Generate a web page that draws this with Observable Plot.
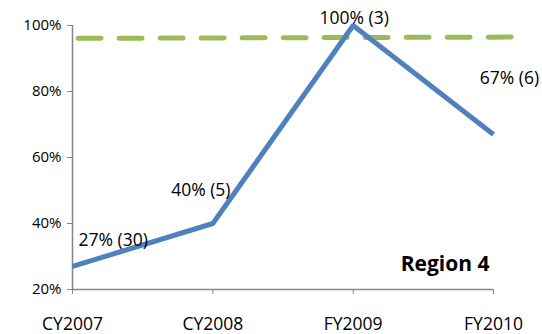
<!DOCTYPE html>
<html>
<head>
<meta charset="utf-8">
<script src="https://cdn.jsdelivr.net/npm/d3@7"></script>
<script src="https://cdn.jsdelivr.net/npm/@observablehq/plot@0.6"></script>
<style>
  html, body { margin: 0; padding: 0; background: #fff; }
  #chart svg { display: block; }
</style>
</head>
<body>
<div id="chart"></div>
<script>
// Data
const categories = ["CY2007", "CY2008", "FY2009", "FY2010"];
const values = [27, 40, 100, 67];
const counts = [30, 5, 3, 6];
const targetX = [0.04, 3.14];
const targetY = [96.1, 96.5];
const yTicks = [20, 40, 60, 80, 100];
const regionLabel = "Region 4";

// label offsets (style)
const labelDx = [6, -12, 1, 16];
const labelDy = [-26, -33, -7, -56];
const labelAnchor = ["start", "middle", "middle", "middle"];

const points = categories.map((c, i) => ({ i, cat: c, v: values[i], n: counts[i] }));
const target = targetX.map((x, k) => ({ x, y: targetY[k] }));

const font = "'Open Sans', sans-serif";
const axisColor = "#868686";

const labelMarks = points.map((p, k) =>
  Plot.text([p], {
    x: "i", y: "v",
    text: d => `${d.v}% (${d.n})`,
    dx: labelDx[k], dy: labelDy[k],
    textAnchor: labelAnchor[k],
    fontSize: 17.5, fill: "#000"
  })
);

const chart = Plot.plot({
  width: 542,
  height: 334,
  marginLeft: 72,
  marginRight: 49,
  marginTop: 25,
  marginBottom: 45,
  style: { fontFamily: font, background: "#fff", overflow: "visible" },
  x: { type: "linear", domain: [0, 3] },
  y: { domain: [20, 100] },
  marks: [
    Plot.axisY({ ticks: yTicks, tickFormat: d => d + "%", tickSize: 5, tickPadding: 6, stroke: axisColor, fill: "#000", fontSize: 15, label: null }),
    Plot.axisX({ ticks: [0, 1, 2, 3], tickFormat: d => categories[d], tickSize: 5, tickPadding: 23, stroke: axisColor, fill: "#000", fontSize: 17.5, label: null }),
    Plot.ruleX([0], { y1: 20, y2: 100, stroke: axisColor, strokeWidth: 1.5 }),
    Plot.ruleY([20], { x1: 0, x2: 3, stroke: axisColor, strokeWidth: 1.5 }),
    Plot.line(target, { x: "x", y: "y", stroke: "#9BBB59", strokeWidth: 5, strokeDasharray: "23,18" }),
    Plot.line(points, { x: "i", y: "v", stroke: "#4F81BD", strokeWidth: 5, strokeLinejoin: "miter", strokeLinecap: "butt" }),
    ...labelMarks,
    Plot.text([regionLabel], { frameAnchor: "bottom-right", text: d => d, dx: -4, dy: -19, fontSize: 21, fontWeight: "bold", fill: "#000" })
  ]
});

document.getElementById("chart").appendChild(chart);
</script>
</body>
</html>
